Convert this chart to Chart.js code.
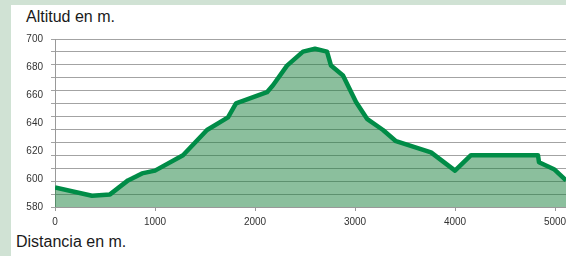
<!DOCTYPE html>
<html>
<head>
<meta charset="utf-8">
<script src="https://cdn.jsdelivr.net/npm/chart.js@4/dist/chart.umd.min.js"></script>
<style>
  html, body { margin:0; padding:0; width:566px; height:256px; overflow:hidden; background:#d0e2d4; }
  #panel { position:absolute; left:11px; top:5px; width:600px; height:260px; background:#ffffff; }
  .lbl { position:absolute; font-family:"Liberation Sans", Arial, sans-serif; font-size:16px; line-height:16px; color:#1a1a1a; white-space:nowrap; }
  #wrap { position:absolute; left:0; top:0; width:600px; height:256px; }
</style>
</head>
<body>
<div id="panel"></div>
<div class="lbl" style="left:26px; top:9px;">Altitud en m.</div>
<div class="lbl" style="left:16px; top:234px;">Distancia en m.</div>
<div id="wrap"><canvas id="c" width="600" height="256"></canvas></div>
<script>
// Distance along the route (m)
const distances = [0, 370, 550, 730, 870, 1000, 1280, 1520, 1730, 1810, 2120, 2180, 2320, 2480, 2600, 2720, 2760, 2880, 3010, 3120, 3280, 3410, 3760, 4000, 4160, 4830, 4840, 4990, 5110];
// Altitude (m)
const altitudes = [594, 588, 589, 599, 604, 606, 617, 635, 644, 654, 662, 667, 681, 691, 693, 691, 681, 674, 655, 643, 635, 627, 619, 606, 617, 617, 612, 607, 599];
// Axis tick values
const xTicks = [0, 1000, 2000, 3000, 4000, 5000];
const yTicks = [580, 600, 620, 640, 660, 680, 700];
const gridDivisions = 13;

const points = distances.map((d, i) => ({ x: d, y: altitudes[i] }));
const FONT = "'Liberation Sans', Arial, sans-serif";

new Chart(document.getElementById('c'), {
  type: 'line',
  data: {
    datasets: [{
      data: points,
      xAxisID: 'x',
      yAxisID: 'y',
      borderColor: '#008c47',
      borderWidth: 4.5,
      borderJoinStyle: 'round',
      backgroundColor: 'rgba(24,128,60,0.5)',
      fill: 'start',
      tension: 0,
      pointRadius: 0,
      pointHoverRadius: 0
    }]
  },
  options: {
    responsive: false,
    animation: false,
    events: [],
    layout: { padding: { top: 39, right: 34, left: 0, bottom: 0 } },
    plugins: { legend: { display: false }, tooltip: { enabled: false }, title: { display: false } },
    scales: {
      x: {
        type: 'linear',
        position: 'bottom',
        min: 0,
        max: 5110,
        afterBuildTicks: s => { s.ticks = xTicks.map(v => ({ value: v })); },
        afterFit: s => { s.height = 49; },
        ticks: { font: { family: FONT, size: 10 }, color: '#333333', padding: 5, maxRotation: 0, autoSkip: false,
                 callback: v => String(v) },
        grid: { display: true, drawOnChartArea: false, drawTicks: true, tickLength: 4, color: '#999999' },
        border: { display: true, color: '#999999', width: 1 }
      },
      y: {
        type: 'linear',
        position: 'left',
        weight: 1,
        min: 580,
        max: 700,
        afterBuildTicks: s => { s.ticks = yTicks.map(v => ({ value: v })); },
        afterFit: s => { s.width = 51; },
        ticks: { font: { family: FONT, size: 10 }, color: '#333333', padding: 8, callback: v => String(v) },
        grid: { display: false, drawTicks: false },
        border: { display: false }
      },
      yg: {
        type: 'linear',
        position: 'left',
        weight: 0,
        min: 0,
        max: gridDivisions,
        afterBuildTicks: s => { s.ticks = Array.from({ length: gridDivisions + 1 }, (_, k) => ({ value: k })); },
        afterFit: s => { s.width = 4; },
        ticks: { display: false },
        grid: { display: true, drawTicks: true, tickLength: 4, color: '#a3a3a3', lineWidth: 1 },
        border: { display: true, color: '#999999', width: 1 }
      }
    }
  }
});
</script>
</body>
</html>
